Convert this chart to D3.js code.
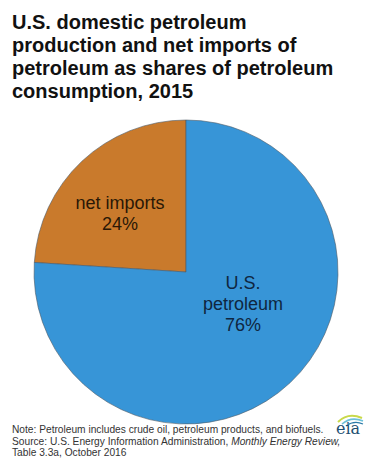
<!DOCTYPE html>
<html>
<head>
<meta charset="utf-8">
<script src="https://cdn.jsdelivr.net/npm/d3@7"></script>
<style>
  body { margin: 0; background: #fff; }
  svg { display: block; font-family: "Liberation Sans", Arial, sans-serif; }
</style>
</head>
<body>
<svg id="chart"></svg>
<script>
// chart data
const sliceNames = ["net imports", "U.S. petroleum"];
const sliceValues = [24, 76];
const sliceLabels = [["net imports", "24%"], ["U.S.", "petroleum", "76%"]];
const sliceColors = ["#c97a2c", "#3795d7"];
const titleLines = [
    "U.S. domestic petroleum",
    "production and net imports of",
    "petroleum as shares of petroleum",
    "consumption, 2015"
];

const width = 375, height = 474;
const svg = d3.select("#chart").attr("width", width).attr("height", height);

// title
svg.append("g")
    .selectAll("text")
    .data(titleLines)
    .join("text")
    .attr("x", 12)
    .attr("y", (d, i) => 29 + i * 23)
    .attr("font-size", "20px")
    .attr("font-weight", "bold")
    .attr("fill", "#111")
    .text(d => d);

// pie
const cx = 186, cy = 272, r = 152;
const pie = d3.pie().sort(null)
    .startAngle(0).endAngle(-2 * Math.PI); // counter-clockwise from 12 o'clock
const arc = d3.arc().innerRadius(0).outerRadius(r);
const arcs = pie(sliceValues);

const g = svg.append("g").attr("transform", `translate(${cx},${cy})`);
g.selectAll("path")
    .data(arcs)
    .join("path")
    .attr("d", arc)
    .attr("fill", (d, i) => sliceColors[i])
    .attr("stroke", "#4d5a66")
    .attr("stroke-width", 0.6);

// slice labels, nudged like the original
const labelPos = [
    { x: -66, y: -59 },
    { x: 57, y: 32 }
];
const labels = g.selectAll("g.lab")
    .data(arcs)
    .join("g")
    .attr("class", "lab")
    .attr("transform", (d, i) => `translate(${labelPos[i].x},${labelPos[i].y})`);
labels.selectAll("text")
    .data((d, i) => sliceLabels[i].map((t, j, a) => ({ t, j, n: a.length, i })))
    .join("text")
    .attr("text-anchor", "middle")
    .attr("y", d => (d.j - (d.n - 1) / 2) * 21 + 6)
    .attr("font-size", "18px")
    .attr("fill", d => d.i === 0 ? "#2a1806" : "#0f2640")
    .text(d => d.t);

// footnote
const note = svg.append("g").attr("font-size", "10.2px").attr("fill", "#333");
note.append("text").attr("x", 12).attr("y", 433)
    .text("Note: Petroleum includes crude oil, petroleum products, and biofuels.");
const src = note.append("text").attr("x", 12).attr("y", 444.5);
src.append("tspan").text("Source: U.S. Energy Information Administration, ");
src.append("tspan").attr("font-style", "italic").text("Monthly Energy Review,");
note.append("text").attr("x", 12).attr("y", 456)
    .text("Table 3.3a, October 2016");

// eia logo
const logo = svg.append("g").attr("transform", "translate(336,434)");
logo.append("path").attr("d", "M2,-12 Q12,-22 26,-16").attr("fill", "none")
    .attr("stroke", "#c9d94a").attr("stroke-width", 2);
logo.append("path").attr("d", "M6,-10 Q15,-18 27,-13").attr("fill", "none")
    .attr("stroke", "#6cc0d8").attr("stroke-width", 1.6);
logo.append("path").attr("d", "M10,-8 Q18,-14 27,-10").attr("fill", "none")
    .attr("stroke", "#2a7aa8").attr("stroke-width", 1.2);
logo.append("text").attr("x", 0).attr("y", 0)
    .attr("font-family", "'DejaVu Serif', serif")
    .attr("font-size", "16px")
    .attr("fill", "#1d4f72")
    .text("eia");
</script>
</body>
</html>
